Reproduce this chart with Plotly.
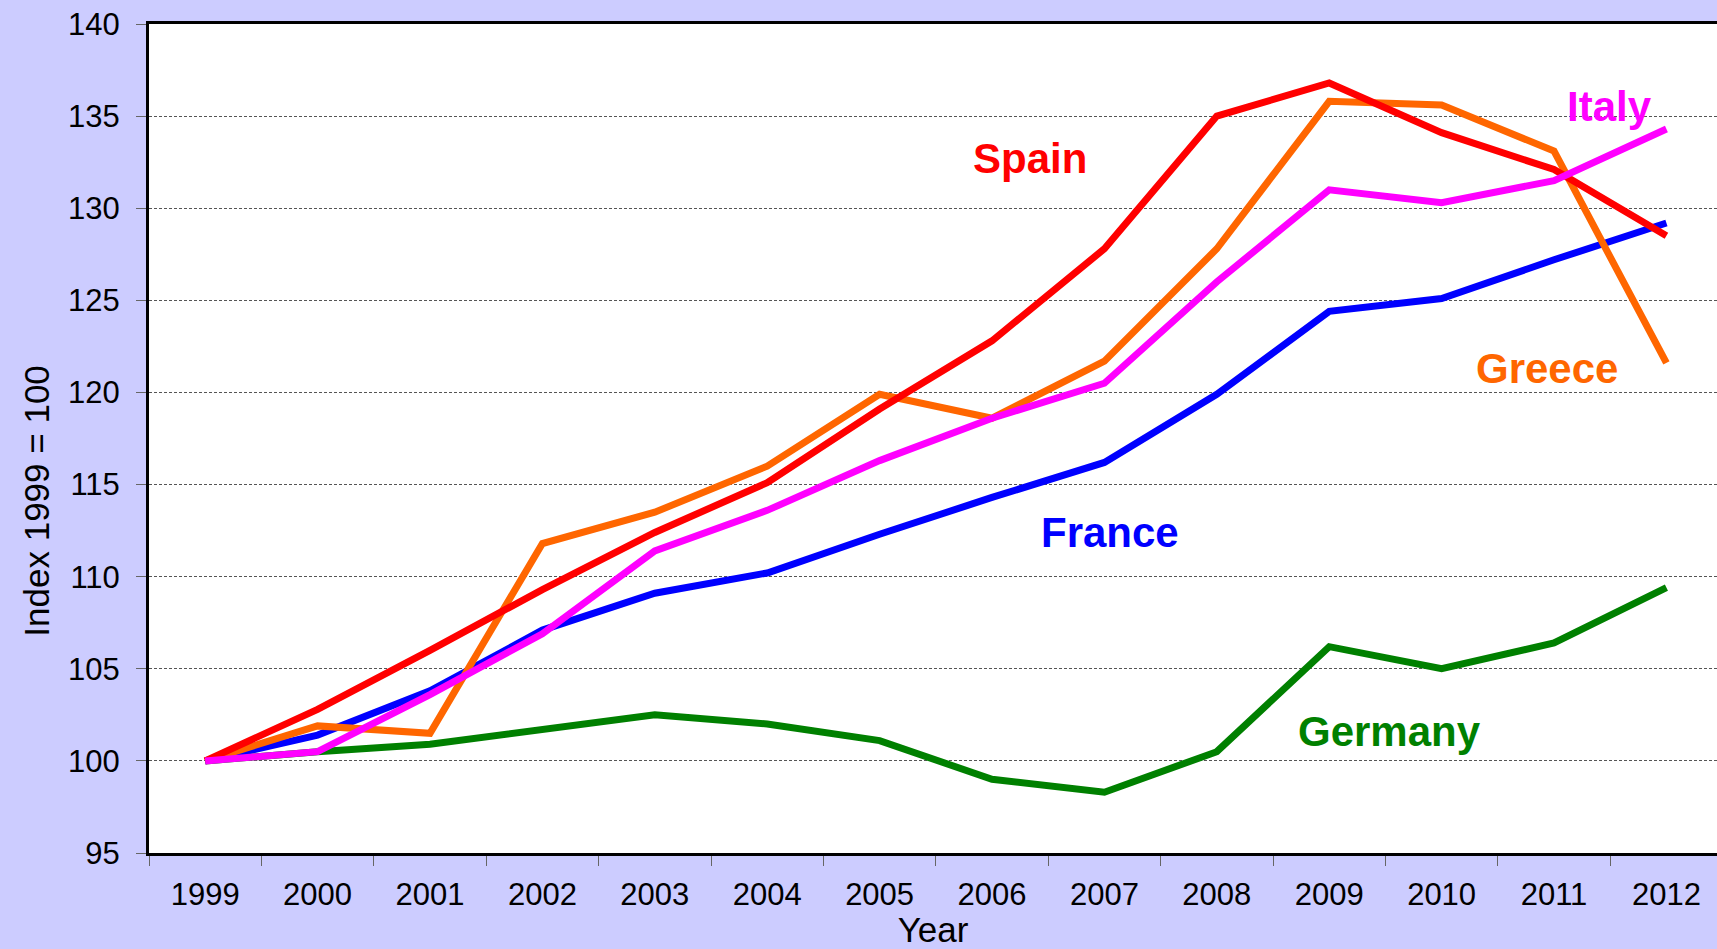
import plotly.graph_objects as go

years = ["1999", "2000", "2001", "2002", "2003", "2004", "2005", "2006",
         "2007", "2008", "2009", "2010", "2011", "2012"]
spain = [100, 102.8, 106.0, 109.3, 112.4, 115.1, 119.1, 122.8, 127.8, 135.0, 136.8, 134.1, 132.1, 128.5]
greece = [100, 101.9, 101.5, 111.8, 113.5, 116.0, 119.9, 118.6, 121.7, 127.8, 135.8, 135.6, 133.1, 121.6]
italy = [100, 100.5, 103.6, 106.9, 111.4, 113.6, 116.3, 118.6, 120.5, 126.0, 131.0, 130.3, 131.5, 134.3]
france = [100, 101.4, 103.8, 107.1, 109.1, 110.2, 112.3, 114.3, 116.2, 119.9, 124.4, 125.1, 127.2, 129.2]
germany = [100, 100.5, 100.9, 101.7, 102.5, 102.0, 101.1, 99.0, 98.3, 100.5, 106.2, 105.0, 106.4, 109.4]

series = [
    ("Germany", germany, "#008000"),
    ("France", france, "#0000FF"),
    ("Greece", greece, "#FF6600"),
    ("Spain", spain, "#FF0000"),
    ("Italy", italy, "#FF00FF"),
]

FONT = "Liberation Sans, Arial, sans-serif"

fig = go.Figure()
for name, vals, col in series:
    fig.add_trace(go.Scatter(x=years, y=vals, mode="lines", name=name,
                             line=dict(color=col, width=7), showlegend=False))

labels = [
    ("Spain", 7.34, 132.7, "#FF0000"),
    ("Italy", 12.49, 135.5, "#FF00FF"),
    ("Greece", 11.94, 121.3, "#FF6600"),
    ("France", 8.05, 112.4, "#0000FF"),
    ("Germany", 10.54, 101.6, "#008000"),
]
for txt, x, y, col in labels:
    fig.add_annotation(x=x, y=y, xref="x", yref="y", text="<b>%s</b>" % txt,
                       showarrow=False, font=dict(size=42, color=col, family=FONT))

fig.add_annotation(x=(37 - 149) / 1568, y=0.425, xref="paper", yref="paper",
                   xanchor="center", yanchor="middle", text="Index 1999 = 100",
                   textangle=-90, showarrow=False,
                   font=dict(size=35, color="#000000", family=FONT))

fig.update_layout(
    width=1717, height=949,
    paper_bgcolor="#CCCCFF", plot_bgcolor="#FFFFFF",
    margin=dict(l=149, r=0, t=24, b=96),
    font=dict(family=FONT, size=31, color="#000000"),
    xaxis=dict(type="category", range=[-0.5, 13.45], tickson="boundaries",
               ticks="outside", ticklen=10, tickwidth=1, tickcolor="#666666",
               showline=True, linecolor="#000000", linewidth=3, mirror=True,
               showgrid=False, zeroline=False, ticklabelstandoff=12,
               title=dict(text="Year", standoff=4, font=dict(size=35)),
               tickfont=dict(size=31)),
    yaxis=dict(range=[95, 140], dtick=5, tick0=95,
               ticks="outside", ticklen=10, tickwidth=1, tickcolor="#666666",
               showline=True, linecolor="#000000", linewidth=3, mirror=False,
               showgrid=True, gridcolor="#555555", gridwidth=1, griddash="3px,2px",
               zeroline=False, ticklabelstandoff=10,
               tickfont=dict(size=31)),
)

fig.write_html("out.html", config={"displayModeBar": False},
               post_script="document.body.style.margin='0';")
